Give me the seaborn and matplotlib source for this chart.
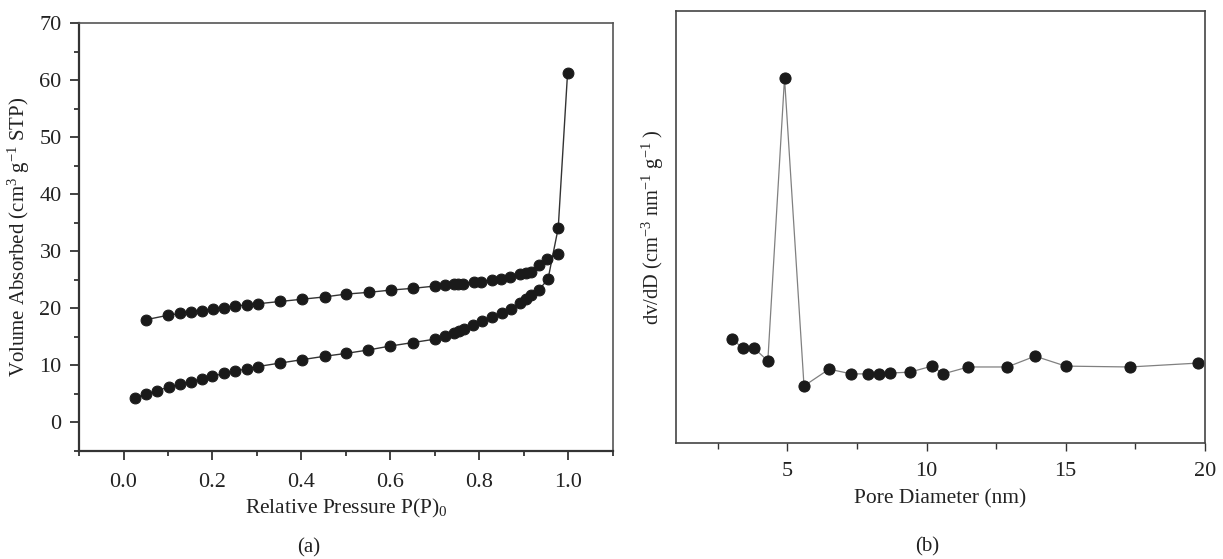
#!/usr/bin/env python3
"""
N2 adsorption-desorption isotherm (a) and pore size distribution (b)
"""

import numpy as np
import matplotlib.pyplot as plt
import matplotlib.ticker as mticker
import seaborn as sns

# (a) isotherm, adsorption branch (lower) and desorption branch (upper)
ads_p = [0.025, 0.051, 0.076, 0.102, 0.127, 0.151, 0.176, 0.200, 0.226, 0.251,
         0.277, 0.302, 0.351, 0.401, 0.452, 0.500, 0.550, 0.600, 0.650, 0.700,
         0.723, 0.742, 0.754, 0.766, 0.786, 0.806, 0.828, 0.850, 0.871, 0.890,
         0.905, 0.916, 0.933, 0.954, 0.977, 0.998]
ads_v = [4.3, 5.0, 5.6, 6.2, 6.7, 7.1, 7.7, 8.1, 8.6, 9.0,
         9.4, 9.8, 10.4, 11.0, 11.6, 12.1, 12.7, 13.4, 14.0, 14.6,
         15.2, 15.7, 16.0, 16.3, 17.0, 17.7, 18.4, 19.1, 19.9, 20.9,
         21.6, 22.3, 23.2, 25.1, 34.1, 61.3]

des_p = [0.050, 0.101, 0.126, 0.151, 0.176, 0.201, 0.226, 0.251, 0.277, 0.302,
         0.352, 0.402, 0.452, 0.501, 0.551, 0.601, 0.650, 0.700, 0.722, 0.742,
         0.752, 0.762, 0.788, 0.803, 0.828, 0.848, 0.869, 0.891, 0.905, 0.916,
         0.933, 0.952, 0.977]
des_v = [18.0, 18.8, 19.1, 19.4, 19.6, 19.9, 20.1, 20.4, 20.6, 20.8,
         21.2, 21.6, 22.0, 22.5, 22.8, 23.2, 23.5, 23.9, 24.1, 24.2,
         24.3, 24.3, 24.6, 24.6, 25.0, 25.1, 25.5, 26.0, 26.2, 26.4,
         27.6, 28.7, 29.6]

# (b) pore size distribution (arbitrary units, no y ticks in the original)
pore_d = [3.0, 3.4, 3.8, 4.3, 4.9, 5.6, 6.5, 7.3, 7.9, 8.3,
          8.7, 9.4, 10.2, 10.6, 11.5, 12.9, 13.9, 15.0, 17.3, 19.75]
dv_dd = [0.241, 0.220, 0.220, 0.190, 0.845, 0.132, 0.171, 0.160, 0.160, 0.160,
         0.162, 0.164, 0.178, 0.160, 0.176, 0.176, 0.201, 0.178, 0.176, 0.185]

sns.set_theme(style='ticks')
plt.rcParams['font.family'] = ['Liberation Serif', 'DejaVu Serif']
plt.rcParams['mathtext.default'] = 'regular'

fig = plt.figure(figsize=(12.23, 5.59), dpi=100)
ax1 = fig.add_axes([0.0646, 0.1932, 0.4366, 0.7657])
ax2 = fig.add_axes([0.5527, 0.2075, 0.4325, 0.7728])

TXT = '#222222'

# ---- (a) ----
for px, vy in [(ads_p, ads_v), (des_p, des_v)]:
    sns.lineplot(x=px, y=vy, ax=ax1, sort=False, color='#333333', linewidth=1.0,
                 marker='o', markersize=7.8, markerfacecolor='#1a1a1a',
                 markeredgecolor='#1a1a1a', estimator=None)

ax1.set_xlim(-0.1, 1.1)
ax1.set_ylim(-5, 70)
ax1.xaxis.set_major_locator(mticker.FixedLocator([0.0, 0.2, 0.4, 0.6, 0.8, 1.0]))
ax1.xaxis.set_minor_locator(mticker.FixedLocator([-0.1, 0.1, 0.3, 0.5, 0.7, 0.9, 1.1]))
ax1.yaxis.set_major_locator(mticker.MultipleLocator(10))
ax1.yaxis.set_minor_locator(mticker.FixedLocator([-5, 5, 15, 25, 35, 45, 55, 65]))
ax1.xaxis.set_major_formatter(mticker.FormatStrFormatter('%.1f'))
ax1.tick_params(which='major', length=6.5, width=1.3, color='#333333',
                labelsize=16, labelcolor=TXT, pad=6)
ax1.tick_params(axis='x', which='major', pad=9)
ax1.tick_params(which='minor', length=3.5, width=1.3, color='#333333')
for side in ['left', 'bottom']:
    ax1.spines[side].set_linewidth(1.6)
    ax1.spines[side].set_color('#333333')
for side in ['top', 'right']:
    ax1.spines[side].set_visible(True)
    ax1.spines[side].set_linewidth(1.2)
    ax1.spines[side].set_color('#555555')
ax1.set_xlabel('Relative Pressure P(P)$_0$', fontsize=15.5, color=TXT, labelpad=4)
ax1.set_ylabel('Volume Absorbed (cm$^3$ g$^{-1}$ STP)', fontsize=15, color=TXT)
ax1.yaxis.set_label_coords(-0.088, 0.5)

# ---- (b) ----
sns.lineplot(x=pore_d, y=dv_dd, ax=ax2, sort=False, color='#808080', linewidth=0.9,
             marker='o', markersize=8, markerfacecolor='#1a1a1a',
             markeredgecolor='#1a1a1a', estimator=None)

ax2.set_xlim(1, 20)
ax2.set_ylim(0, 1)
ax2.xaxis.set_major_locator(mticker.FixedLocator([5, 10, 15, 20]))
ax2.xaxis.set_minor_locator(mticker.FixedLocator([2.5, 7.5, 12.5, 17.5]))
ax2.set_yticks([])
ax2.tick_params(which='major', length=5.5, width=1.0, color='#333333',
                labelsize=16, labelcolor=TXT, pad=8)
ax2.tick_params(which='minor', length=4, width=1.0, color='#333333')
for side in ['left', 'bottom', 'top', 'right']:
    ax2.spines[side].set_visible(True)
    ax2.spines[side].set_linewidth(1.2)
    ax2.spines[side].set_color('#444444')
ax2.set_xlabel('Pore Diameter (nm)', fontsize=15.5, color=TXT, labelpad=6)
ax2.set_ylabel('dv/dD (cm$^{-3}$ nm$^{-1}$ g$^{-1}$ )', fontsize=14.8, color=TXT)
ax2.yaxis.set_label_coords(-0.018, 0.5)

fig.text(309 / 1223, 1 - 548 / 559, '(a)', ha='center', va='center',
         fontsize=15, color=TXT)
fig.text(927 / 1223, 1 - 547 / 559, '(b)', ha='center', va='center',
         fontsize=15, color=TXT)

fig.savefig('out.png', dpi=100)
plt.close(fig)
